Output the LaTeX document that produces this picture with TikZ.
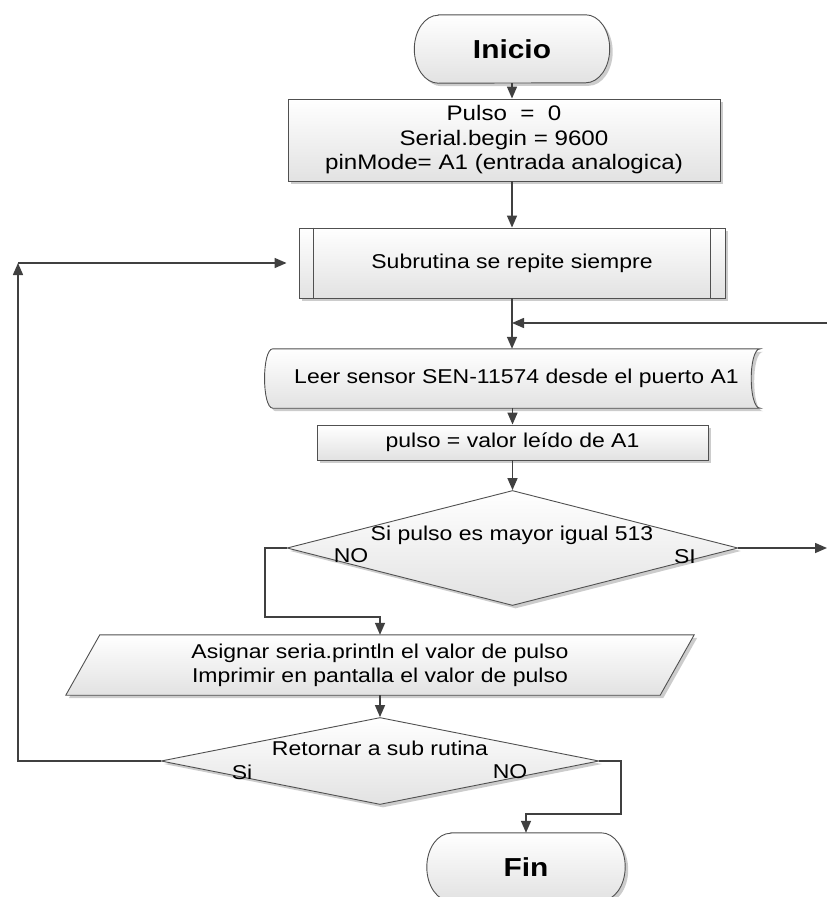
\documentclass[tikz,border=0pt]{standalone}
\usepackage{fontspec}
\setmainfont{Liberation Sans}[FakeStretch=1.15]
\usetikzlibrary{arrows.meta,shapes.geometric,shadows,backgrounds}
\definecolor{clLine}{HTML}{404040}
\definecolor{clBorder}{HTML}{505050}
\definecolor{clShade}{HTML}{E2E2E2}
\definecolor{clShadow}{HTML}{CCCCCC}
\tikzset{
  shadowed/.style={drop shadow={shadow xshift=3pt, shadow yshift=-3pt, fill=clShadow, opacity=1}},
  boxpath/.style={draw=clBorder, line width=0.9pt, top color=white, bottom color=clShade, shadowed},
  txt/.style={align=center, inner sep=0pt, text=black, font=\fontsize{20}{24}\selectfont},
  process/.style={boxpath, txt, rectangle},
  decision/.style={boxpath, diamond, inner sep=0pt},
  term/.style={txt, font=\fontsize{26}{30}\selectfont\bfseries},
  flow/.style={-{Triangle[length=12pt,width=10pt]}, line width=1.5pt, draw=clLine},
}

\begin{document}
\begin{tikzpicture}[x=1pt, y=-1pt]
  \useasboundingbox (0,0) rectangle (827,897);
  % nodes
  \node[term, minimum width=195pt, minimum height=68pt] (ini) at (512,49) {Inicio};
  \node[process, minimum width=432pt, minimum height=82pt, font=\fontsize{21}{24.5}\selectfont] (init) at (504,140)
    {Pulso \ = \ 0\\Serial.begin = 9600\\pinMode= A1 (entrada analogica)};
  \node[process, minimum width=426pt, minimum height=70pt] (subr) at (512,263) {Subrutina se repite siempre};
  \draw[clBorder, line width=0.9pt] ([xshift=15pt]subr.north west) -- ([xshift=15pt]subr.south west);
  \draw[clBorder, line width=0.9pt] ([xshift=-15pt]subr.north east) -- ([xshift=-15pt]subr.south east);
  \node[txt, minimum width=487pt, minimum height=59pt] (leer) at (516.5,378.5) {Leer sensor SEN-11574 desde el puerto A1};
  \node[process, minimum width=391pt, minimum height=35pt] (pulso) at (512.5,442.5) {pulso = valor leído de A1};
  \node[decision, minimum width=451pt, minimum height=115pt] (dec1) at (512.5,548) {};
  \node[txt] (dec1t) at (512,535) {Si pulso es mayor igual 513};
  \node[txt] (dec1no) at (351,556) {NO};
  \node[txt] (dec1si) at (685,557) {SI};
  \node[txt, minimum width=628pt, minimum height=60pt] (para) at (380,665)
    {Asignar seria.println el valor de pulso\\Imprimir en pantalla el valor de pulso};
  \node[decision, minimum width=438pt, minimum height=87pt] (dec2) at (380,761) {};
  \node[txt] (dec2t) at (380,748) {Retornar a sub rutina};
  \node[txt] (dec2si) at (242,772) {Si};
  \node[txt] (dec2no) at (510,772) {NO};
  \node[term, minimum width=198pt, minimum height=68pt] (fin) at (526,867) {Fin};

  % shapes drawn by hand
  \begin{scope}[on background layer]
    \path[boxpath] ([xshift=24pt]ini.north west) -- ([xshift=-24pt]ini.north east)
      arc[start angle=90, end angle=-90, x radius=24pt, y radius=34pt]
      -- ([xshift=24pt]ini.south west)
      arc[start angle=270, end angle=90, x radius=24pt, y radius=34pt] -- cycle;
    \path[boxpath] ([xshift=24pt]fin.north west) -- ([xshift=-24pt]fin.north east)
      arc[start angle=90, end angle=-90, x radius=24pt, y radius=34pt]
      -- ([xshift=24pt]fin.south west)
      arc[start angle=270, end angle=90, x radius=24pt, y radius=34pt] -- cycle;
    \path[boxpath] (leer.north west) -- (leer.north east)
      .. controls ([xshift=-12pt]leer.north east) and ([xshift=-12pt]leer.south east) .. (leer.south east)
      -- (leer.south west)
      .. controls ([xshift=-11pt]leer.south west) and ([xshift=-11pt]leer.north west) .. (leer.north west) -- cycle;
    \path[boxpath] (para.south west) -- ([xshift=34pt]para.north west) -- (para.north east)
      -- ([xshift=-34pt]para.south east) -- cycle;
  \end{scope}

  % connectors
  \coordinate (rin) at (827,323);
  \coordinate (rout) at (827,548);
  \coordinate (noA) at (265,617);
  \coordinate (noB) at (621,814);
  \coordinate (loop) at (18,263);
  \draw[flow] (ini.south) -- (ini.south |- init.north);
  \draw[flow] (subr.north |- init.south) -- (subr.north);
  \draw[flow] (subr.south) -- (subr.south |- leer.north);
  \draw[flow] (rin) -- (rin -| subr.south);
  \draw[flow] (pulso.north |- leer.south) -- (pulso.north);
  \draw[flow] (pulso.south) -- (dec1.north);
  \draw[flow] (dec1.east) -- (rout);
  \draw[flow] (dec1.west) -| (noA) -| (para.north);
  \draw[flow] (para.south) -- (para.south |- dec2.north);
  \draw[flow] (dec2.west) -| (loop);
  \draw[flow] (loop) -- ([xshift=-12pt]subr.west);
  \draw[flow] (dec2.east) -| (noB) -| (fin.north);
\end{tikzpicture}
\end{document}
